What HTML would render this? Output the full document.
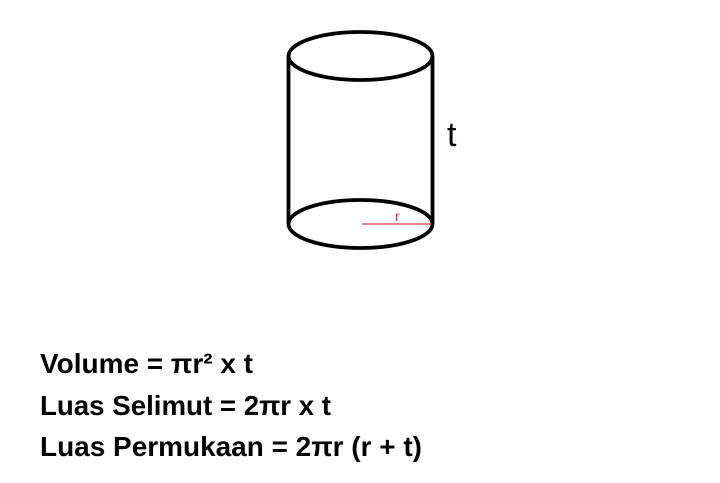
<!DOCTYPE html>
<html><head><meta charset="utf-8"><style>
html,body{margin:0;padding:0;background:#fff;width:720px;height:483px;overflow:hidden}
svg{display:block}
text{font-family:"Liberation Sans",sans-serif}
</style></head><body>
<svg width="720" height="483" viewBox="0 0 720 483">
<g fill="none" stroke="#000" stroke-width="3.8">
<ellipse cx="360.5" cy="56" rx="72" ry="24"/>
<ellipse cx="360.5" cy="224" rx="72" ry="24"/>
<line x1="288.5" y1="56" x2="288.5" y2="224"/>
<line x1="432.5" y1="56" x2="432.5" y2="224"/>
</g>
<line x1="362" y1="224" x2="431" y2="224" stroke="#d9344a" stroke-width="1.2"/>
<text x="395" y="221" font-size="14" fill="#d9344a">r</text>
<text x="447" y="146" font-size="34" fill="#000">t</text>
<g font-weight="bold" font-size="28" fill="#000">
<text x="40" y="373" textLength="213" lengthAdjust="spacingAndGlyphs">Volume = πr² x t</text>
<text x="40" y="415" textLength="291" lengthAdjust="spacingAndGlyphs">Luas Selimut = 2πr x t</text>
<text x="40" y="456" textLength="382" lengthAdjust="spacingAndGlyphs">Luas Permukaan = 2πr (r + t)</text>
</g>
</svg>
</body></html>
